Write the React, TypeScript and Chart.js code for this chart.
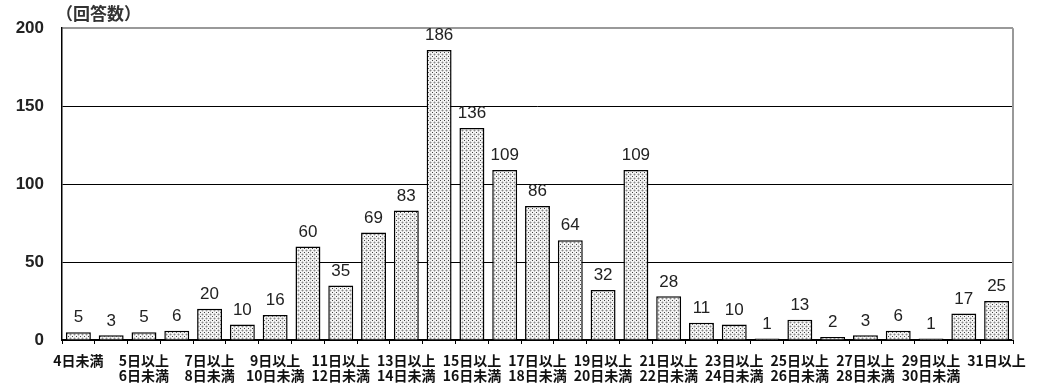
import React, { useEffect, useRef } from 'react';
import { Chart, registerables } from 'chart.js';

Chart.register(...registerables);

// 回答日数の区分
const categories: string[] = [
  '4日未満',
  '4日以上5日未満',
  '5日以上6日未満',
  '6日以上7日未満',
  '7日以上8日未満',
  '8日以上9日未満',
  '9日以上10日未満',
  '10日以上11日未満',
  '11日以上12日未満',
  '12日以上13日未満',
  '13日以上14日未満',
  '14日以上15日未満',
  '15日以上16日未満',
  '16日以上17日未満',
  '17日以上18日未満',
  '18日以上19日未満',
  '19日以上20日未満',
  '20日以上21日未満',
  '21日以上22日未満',
  '22日以上23日未満',
  '23日以上24日未満',
  '24日以上25日未満',
  '25日以上26日未満',
  '26日以上27日未満',
  '27日以上28日未満',
  '28日以上29日未満',
  '29日以上30日未満',
  '30日以上31日未満',
  '31日以上',
];

// 回答数
const counts: number[] = [
  5, 3, 5, 6, 20, 10, 16, 60, 35, 69, 83, 186, 136, 109, 86, 64, 32, 109, 28, 11, 10, 1, 13, 2, 3, 6, 1, 17, 25,
];

const yTicks: number[] = [0, 50, 100, 150, 200];
const yUnitLabel = '（回答数）';

// Split "N日以上M日未満" into two lines; show only every other category.
function tickText(label: string, index: number): string | string[] {
  if (index % 2 !== 0) return '';
  const pos = label.indexOf('以上');
  if (pos >= 0 && pos + 2 < label.length) {
    return [label.slice(0, pos + 2), label.slice(pos + 2)];
  }
  return label;
}

// Dotted fill used for the bars
function makeDotPattern(): CanvasPattern | string {
  const tile = document.createElement('canvas');
  tile.width = 4;
  tile.height = 4;
  const c = tile.getContext('2d');
  if (!c) return '#ccc';
  c.fillStyle = '#f4f4f4';
  c.fillRect(0, 0, 4, 4);
  c.fillStyle = '#444444';
  c.fillRect(0, 0, 1, 1);
  c.fillStyle = '#8a8a8a';
  c.fillRect(2, 2, 1, 1);
  c.fillStyle = '#c4c4c4';
  c.fillRect(2, 1, 1, 1);
  c.fillRect(1, 2, 1, 1);
  c.fillRect(3, 2, 1, 1);
  c.fillRect(2, 3, 1, 1);
  const p = c.createPattern(tile, 'repeat');
  return p || '#ccc';
}

const valueLabels = {
  id: 'valueLabels',
  afterDatasetsDraw(chart: any) {
    const ctx = chart.ctx;
    const meta = chart.getDatasetMeta(0);
    const data = chart.data.datasets[0].data as number[];
    ctx.save();
    ctx.font = '17px "Liberation Sans", Arial, sans-serif';
    ctx.fillStyle = '#222';
    ctx.textAlign = 'center';
    ctx.textBaseline = 'bottom';
    meta.data.forEach((bar: any, i: number) => {
      ctx.fillText(String(data[i]), bar.x, bar.y - 6);
    });
    ctx.restore();
  },
};

const frameAndUnit = {
  id: 'frameAndUnit',
  afterDraw(chart: any) {
    const { ctx, chartArea } = chart;
    ctx.save();
    ctx.strokeStyle = '#999';
    ctx.lineWidth = 2;
    ctx.beginPath();
    ctx.moveTo(chartArea.right, chartArea.top);
    ctx.lineTo(chartArea.right, chartArea.bottom);
    ctx.stroke();
    ctx.font = 'bold 17px "Noto Sans CJK JP", sans-serif';
    ctx.fillStyle = '#333';
    ctx.textAlign = 'left';
    ctx.textBaseline = 'middle';
    ctx.fillText(yUnitLabel, chartArea.left - 6, 14);
    ctx.restore();
  },
};

export default function App() {
  const canvasRef = useRef<HTMLCanvasElement | null>(null);

  useEffect(() => {
    if (!canvasRef.current) return;
    const pattern = makeDotPattern();
    const chart = new Chart(canvasRef.current, {
      type: 'bar',
      data: {
        labels: categories,
        datasets: [
          {
            data: counts,
            backgroundColor: pattern as any,
            borderColor: '#000',
            borderWidth: 1.5,
            barPercentage: 0.76,
            categoryPercentage: 1,
          },
        ],
      },
      options: {
        animation: false,
        responsive: true,
        maintainAspectRatio: false,
        layout: { padding: { top: 26, right: 36, left: 0, bottom: 0 } },
        plugins: {
          legend: { display: false },
          tooltip: { enabled: false },
        },
        scales: {
          x: {
            offset: true,
            grid: {
              offset: true,
              drawOnChartArea: false,
              drawTicks: true,
              tickLength: 4,
              color: '#000',
              lineWidth: 1,
            },
            border: { color: '#000', width: 2 },
            ticks: {
              autoSkip: false,
              maxRotation: 0,
              minRotation: 0,
              padding: 9,
              color: '#111',
              font: { family: '"Noto Sans CJK JP", sans-serif', size: 14, weight: 'bold', lineHeight: 1.1 },
              callback: (_v: any, i: number) => tickText(categories[i], i),
            },
            afterFit: (scale: any) => {
              scale.height = 45;
            },
          },
          y: {
            min: yTicks[0],
            max: yTicks[yTicks.length - 1],
            afterBuildTicks: (scale: any) => {
              scale.ticks = yTicks.map((v) => ({ value: v }));
            },
            grid: {
              drawTicks: false,
              color: (c: any) => (c.tick && c.tick.value === 200 ? '#999' : '#000'),
              lineWidth: (c: any) => (c.tick && c.tick.value === 200 ? 2 : 1),
            },
            border: { color: '#000', width: 1.5 },
            ticks: {
              padding: 18,
              color: '#222',
              font: { family: '"Liberation Sans", Arial, sans-serif', size: 17, weight: 'bold' },
            },
            afterFit: (scale: any) => {
              scale.width = 62;
            },
          },
        },
      },
      plugins: [valueLabels, frameAndUnit],
    });
    return () => chart.destroy();
  }, []);

  return (
    <div style={{ position: 'absolute', left: 0, top: 0, width: 1049, height: 385, background: '#fff' }}>
      <canvas ref={canvasRef} />
    </div>
  );
}
